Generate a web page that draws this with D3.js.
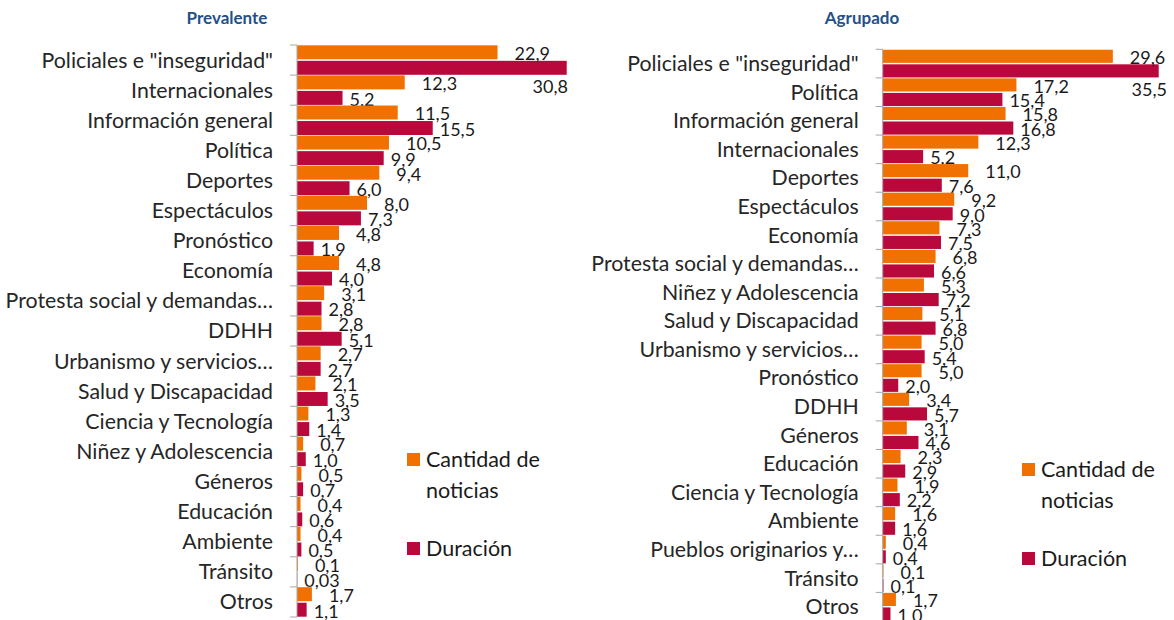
<!DOCTYPE html>
<html>
<head>
<meta charset="utf-8">
<script src="https://cdn.jsdelivr.net/npm/d3@7"></script>
<style>
  body { margin: 0; background: #fff; }
  svg { display: block; font-family: Lato, "Open Sans", sans-serif; }
</style>
</head>
<body>
<div id="container"></div>
<script>
// left panel: tópico prevalente
var leftCategories = [
  'Policiales e "inseguridad"', 'Internacionales', 'Información general', 'Política',
  'Deportes', 'Espectáculos', 'Pronóstico', 'Economía', 'Protesta social y demandas…',
  'DDHH', 'Urbanismo y servicios…', 'Salud y Discapacidad', 'Ciencia y Tecnología',
  'Niñez y Adolescencia', 'Géneros', 'Educación', 'Ambiente', 'Tránsito', 'Otros'
]
var leftCantidad = [22.9, 12.3, 11.5, 10.5, 9.4, 8.0, 4.8, 4.8, 3.1, 2.8, 2.7, 2.1, 1.3, 0.7, 0.5, 0.4, 0.4, 0.1, 1.7]
var leftDuracion = [30.8, 5.2, 15.5, 9.9, 6.0, 7.3, 1.9, 4.0, 2.8, 5.1, 2.7, 3.5, 1.4, 1.0, 0.7, 0.6, 0.5, 0.03, 1.1]

// right panel: tópico agrupado
var rightCategories = [
  'Policiales e "inseguridad"', 'Política', 'Información general', 'Internacionales',
  'Deportes', 'Espectáculos', 'Economía', 'Protesta social y demandas…',
  'Niñez y Adolescencia', 'Salud y Discapacidad', 'Urbanismo y servicios…', 'Pronóstico',
  'DDHH', 'Géneros', 'Educación', 'Ciencia y Tecnología', 'Ambiente',
  'Pueblos originarios y…', 'Tránsito', 'Otros'
]
var rightCantidad = [29.6, 17.2, 15.8, 12.3, 11.0, 9.2, 7.3, 6.8, 5.3, 5.1, 5.0, 5.0, 3.4, 3.1, 2.3, 1.9, 1.6, 0.4, 0.1, 1.7]
var rightDuracion = [35.5, 15.4, 16.8, 5.2, 7.6, 9.0, 7.5, 6.6, 7.2, 6.8, 5.4, 2.0, 5.7, 4.6, 2.9, 2.2, 1.6, 0.4, 0.1, 1.0]

var seriesNames = ['Cantidad de noticias', 'Duración']
var colours = ['#f07000', '#b8083c']

var width = 1174
var height = 620

var svg = d3.select('#container').append('svg')
  .attr('width', width)
  .attr('height', height)

function fmt (v) {
  var s = v < 0.1 ? v.toFixed(2) : v.toFixed(1)
  return s.replace('.', ',')
}

function drawPanel (p) {
  var rows = p.categories.map(function (c, i) {
    return { name: c, values: [p.cantidad[i], p.duracion[i]] }
  })

  var y = d3.scaleBand()
    .domain(p.categories)
    .range([p.top, p.bottom])

  var sub = d3.scaleBand()
    .domain([0, 1])
    .range([0, y.bandwidth()])
    .paddingInner(p.inner)
    .paddingOuter(p.outer)

  var x = d3.scaleLinear()
    .domain([0, p.xMax])
    .range([p.left, p.right])

  var g = svg.append('g')

  // title
  g.append('text')
    .attr('x', p.titleX)
    .attr('y', 18)
    .attr('dy', '.35em')
    .attr('text-anchor', 'middle')
    .style('font-weight', 'bold')
    .style('font-size', '17px')
    .style('fill', '#24508a')
    .text(p.title)

  var row = g.selectAll('g.row')
    .data(rows)
    .enter().append('g')
    .attr('class', 'row')
    .attr('transform', function (d) { return 'translate(0,' + y(d.name) + ')' })

  row.selectAll('rect')
    .data(function (d) { return d.values })
    .enter().append('rect')
    .attr('x', x(0))
    .attr('y', function (d, i) { return sub(i) })
    .attr('width', function (d) { return x(d) - x(0) })
    .attr('height', sub.bandwidth())
    .style('fill', function (d, i) { return colours[i] })

  // value labels, pushed under the bar when they would leave the plot
  row.selectAll('text.val')
    .data(function (d) { return d.values })
    .enter().append('text')
    .attr('class', 'val')
    .style('font-size', '18px')
    .style('fill', '#1a1a1a')
    .attr('dy', '.35em')
    .text(function (d) { return fmt(d) })
    .each(function (d, i) {
      var t = d3.select(this)
      var w = this.getComputedTextLength()
      var lx = x(d) + (i === 0 ? 17 : 7)
      var ly = sub(i) + sub.bandwidth() / 2 + 1.5
      if (lx + w > p.labelMax) {
        lx = p.labelMax - w
        ly += 17
      }
      t.attr('x', lx).attr('y', ly)
    })

  // category axis
  var axis = g.append('g')
  axis.append('line')
    .attr('x1', x(0)).attr('x2', x(0))
    .attr('y1', p.top).attr('y2', p.bottom)
    .style('stroke', '#a6a6a6')
  axis.selectAll('line.tick')
    .data(d3.range(p.categories.length + 1))
    .enter().append('line')
    .attr('class', 'tick')
    .attr('x1', x(0) - 7).attr('x2', x(0))
    .attr('y1', function (i) { return p.top + i * y.step() })
    .attr('y2', function (i) { return p.top + i * y.step() })
    .style('stroke', '#a6a6a6')

  axis.selectAll('text.cat')
    .data(p.categories)
    .enter().append('text')
    .attr('class', 'cat')
    .attr('x', x(0) - 24)
    .attr('y', function (d) { return y(d) + y.bandwidth() / 2 })
    .attr('dy', '.35em')
    .attr('text-anchor', 'end')
    .style('font-size', '21.3px')
    .style('fill', '#262626')
    .text(function (d) { return d })

  // legend
  var legend = g.append('g')
  var items = [
    { lines: ['Cantidad de', 'noticias'], y: p.legendY },
    { lines: ['Duración'], y: p.legendY + 89 }
  ]
  items.forEach(function (it, i) {
    legend.append('rect')
      .attr('x', p.legendX)
      .attr('y', it.y - 6.5)
      .attr('width', 13)
      .attr('height', 13)
      .style('fill', colours[i])
    it.lines.forEach(function (l, j) {
      legend.append('text')
        .attr('x', p.legendX + 19)
        .attr('y', it.y + j * 31)
        .attr('dy', '.35em')
        .style('font-size', '21.5px')
        .style('fill', '#1a1a1a')
        .text(l)
    })
  })
}

drawPanel({
  title: 'Prevalente', titleX: 227,
  categories: leftCategories, cantidad: leftCantidad, duracion: leftDuracion,
  top: 45, bottom: 617, inner: 0.1, outer: 0.02,
  left: 297, right: 297 + 35 * 8.757, xMax: 35, labelMax: 568,
  legendX: 407, legendY: 459.5
})

drawPanel({
  title: 'Agrupado', titleX: 862,
  categories: rightCategories, cantidad: rightCantidad, duracion: rightDuracion,
  top: 49.3, bottom: 621, inner: 0.1, outer: 0.03,
  left: 882.7, right: 882.7 + 40 * 7.775, xMax: 40, labelMax: 1167,
  legendX: 1022, legendY: 469.5
})
</script>
</body>
</html>
